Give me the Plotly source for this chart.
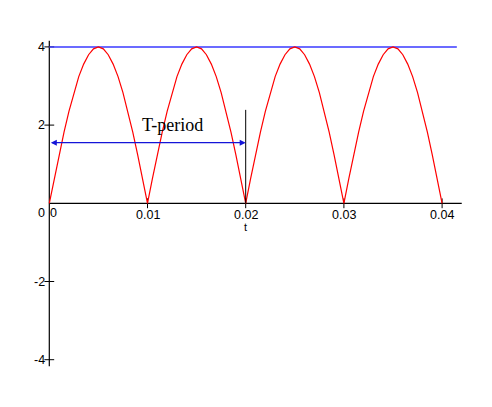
import plotly.graph_objects as go

# ---- data ----
t_values = [0.0, 0.0005, 0.001, 0.0015, 0.002, 0.0025, 0.003, 0.0035, 0.004, 0.0045,
            0.005, 0.0055, 0.006, 0.0065, 0.007, 0.0075, 0.008, 0.0085, 0.009, 0.0095,
            0.01, 0.0105, 0.011, 0.0115, 0.012, 0.0125, 0.013, 0.0135, 0.014, 0.0145,
            0.015, 0.0155, 0.016, 0.0165, 0.017, 0.0175, 0.018, 0.0185, 0.019, 0.0195,
            0.02, 0.0205, 0.021, 0.0215, 0.022, 0.0225, 0.023, 0.0235, 0.024, 0.0245,
            0.025, 0.0255, 0.026, 0.0265, 0.027, 0.0275, 0.028, 0.0285, 0.029, 0.0295,
            0.03, 0.0305, 0.031, 0.0315, 0.032, 0.0325, 0.033, 0.0335, 0.034, 0.0345,
            0.035, 0.0355, 0.036, 0.0365, 0.037, 0.0375, 0.038, 0.0385, 0.039, 0.0395,
            0.04]
v_values = [0, 0.63, 1.24, 1.82, 2.35, 2.83, 3.24, 3.56, 3.80, 3.95,
            4.00, 3.95, 3.80, 3.56, 3.24, 2.83, 2.35, 1.82, 1.24, 0.63,
            0, 0.63, 1.24, 1.82, 2.35, 2.83, 3.24, 3.56, 3.80, 3.95,
            4.00, 3.95, 3.80, 3.56, 3.24, 2.83, 2.35, 1.82, 1.24, 0.63,
            0, 0.63, 1.24, 1.82, 2.35, 2.83, 3.24, 3.56, 3.80, 3.95,
            4.00, 3.95, 3.80, 3.56, 3.24, 2.83, 2.35, 1.82, 1.24, 0.63,
            0, 0.63, 1.24, 1.82, 2.35, 2.83, 3.24, 3.56, 3.80, 3.95,
            4.00, 3.95, 3.80, 3.56, 3.24, 2.83, 2.35, 1.82, 1.24, 0.63,
            0]

amp_x = [0, 0.0415]
amp_y = [4, 4]

period_start = 0.0
period_end = 0.02
arrow_y = 1.55
marker_top = 2.39
period_label = "T-period"
period_label_pos = (0.0125, 2.0)

x_ticks = [0.01, 0.02, 0.03, 0.04]
x_tick_labels = ["0.01", "0.02", "0.03", "0.04"]
y_ticks = [-4, -2, 2, 4]
y_tick_labels = ["-4", "-2", "2", "4"]
x_axis_span = [0, 0.042]
y_axis_span = [-4.17, 4.16]
x_label = "t"

# page has an 8px body margin, figure sized so it fits the window
x_range = [-0.004206, 0.044267]
y_range = [-5.005, 4.995]

tick_font = dict(family="Liberation Sans, Arial, sans-serif", size=12.5, color="black")

fig = go.Figure()

# axes lines
fig.add_trace(go.Scatter(x=x_axis_span, y=[0, 0], mode="lines",
                         line=dict(color="black", width=1.2), hoverinfo="skip"))
fig.add_trace(go.Scatter(x=[0, 0], y=y_axis_span, mode="lines",
                         line=dict(color="black", width=1.2), hoverinfo="skip"))
# tick marks
fig.add_trace(go.Scatter(x=x_ticks, y=[0] * len(x_ticks), mode="markers",
                         marker=dict(symbol="line-ns", size=7, line=dict(color="black", width=1)),
                         hoverinfo="skip"))
fig.add_trace(go.Scatter(x=[0] * len(y_ticks), y=y_ticks, mode="markers",
                         marker=dict(symbol="line-ew", size=7, line=dict(color="black", width=1)),
                         hoverinfo="skip"))

# amplitude line
fig.add_trace(go.Scatter(x=amp_x, y=amp_y, mode="lines",
                         line=dict(color="#3a3aff", width=1.5), hoverinfo="skip"))

# rectified sine
fig.add_trace(go.Scatter(x=t_values, y=v_values, mode="lines",
                         line=dict(color="#ff0000", width=1.2), hoverinfo="skip"))

# period marker vertical line
fig.add_trace(go.Scatter(x=[period_end, period_end], y=[0, marker_top], mode="lines",
                         line=dict(color="black", width=1), hoverinfo="skip"))

# period double arrow
fig.add_annotation(x=period_end, y=arrow_y, ax=period_start, ay=arrow_y,
                   xref="x", yref="y", axref="x", ayref="y", text="",
                   showarrow=True, arrowhead=2, startarrowhead=2, arrowside="end+start",
                   arrowsize=1.0, arrowwidth=1.2, arrowcolor="#1414d8")

fig.add_annotation(x=period_label_pos[0], y=period_label_pos[1], text=period_label,
                   showarrow=False, xref="x", yref="y",
                   font=dict(family="Liberation Serif, Times New Roman, serif", size=18, color="black"))

# tick labels
for xv, lab in zip(x_ticks, x_tick_labels):
    fig.add_annotation(x=xv, y=0, text=lab, showarrow=False, xanchor="center",
                       yanchor="top", yshift=-3, font=tick_font)
for yv, lab in zip(y_ticks, y_tick_labels):
    fig.add_annotation(x=0, y=yv, text=lab, showarrow=False, xanchor="right",
                       yanchor="middle", xshift=-2, font=tick_font)
fig.add_annotation(x=0, y=0, text="0", showarrow=False, xanchor="right",
                   yanchor="top", xshift=-2, yshift=-1, font=tick_font)
fig.add_annotation(x=0, y=0, text="0", showarrow=False, xanchor="left",
                   yanchor="top", xshift=-1, yshift=-1, font=tick_font)
fig.add_annotation(x=period_end, y=0, text=x_label, showarrow=False, xanchor="center",
                   yanchor="top", yshift=-16,
                   font=dict(family="Liberation Sans, Arial, sans-serif", size=11, color="black"))

fig.update_layout(
    width=476, height=391, autosize=False,
    margin=dict(l=0, r=0, t=0, b=0),
    paper_bgcolor="white", plot_bgcolor="white",
    showlegend=False,
    xaxis=dict(range=x_range, visible=False, fixedrange=True),
    yaxis=dict(range=y_range, visible=False, fixedrange=True),
)

fig.write_html("out.html")
